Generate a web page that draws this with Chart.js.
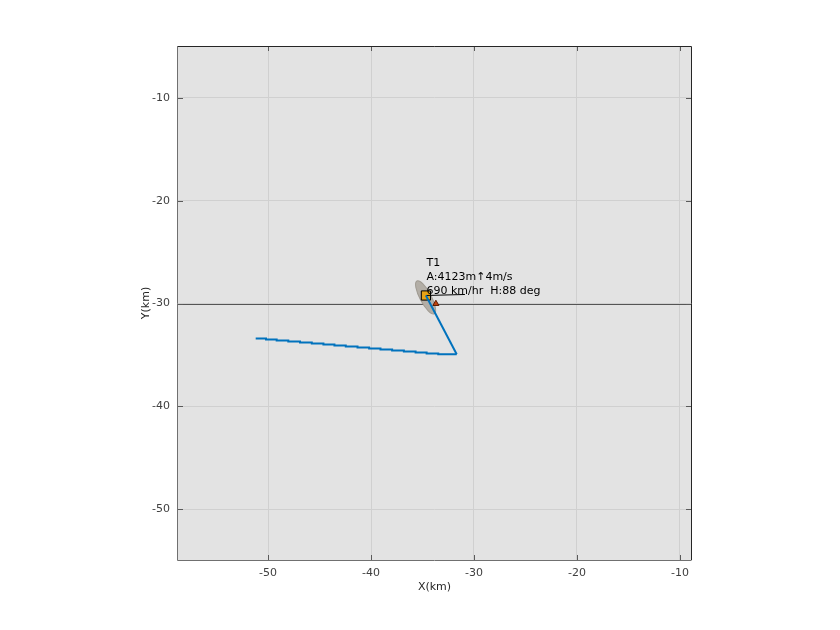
<!DOCTYPE html>
<html>
<head>
<meta charset="utf-8">
<script src="https://cdn.jsdelivr.net/npm/chart.js@4"></script>
<style>
  body { margin: 0; background: #ffffff; }
  #wrap { width: 840px; height: 630px; }
</style>
</head>
<body>
<div id="wrap"><canvas id="js--chart" width="840" height="630"></canvas></div>
<script>
// axis range and ticks (km)
const xRange = [-58.74, -8.93];
const yRange = [-54.96, -4.94];
const xTicks = [-50, -40, -30, -20, -10];
const yTicks = [-50, -40, -30, -20, -10];
const xTitle = 'X(km)';
const yTitle = 'Y(km)';
const refLineY = -30;

// track: westward leg (stair stepped) then the climb back to the target
const legX = [-51.10, -50.19, -49.16, -48.03, -46.89, -45.75, -44.62, -43.55, -42.45, -41.31,
    -40.18, -39.08, -37.95, -36.81, -35.67, -34.60, -33.47, -32.33, -31.68];
const legY = [-33.31, -33.41, -33.50, -33.60, -33.70, -33.79, -33.89, -33.99, -34.09, -34.18,
    -34.28, -34.38, -34.47, -34.57, -34.67, -34.76, -34.86, -34.93, -34.93];
const climbX = [-31.68, -34.67];
const climbY = [-34.93, -29.22];

// target T1
const targetX = [-34.67];
const targetY = [-29.22];
const headingX = [-34.67, -30.88];
const headingY = [-29.22, -29.12];
const triX = [-33.70];
const triY = [-30.02];
const ellipse = { x: -34.7, y: -29.4, a: 1.8, b: 0.55, angle: 62 };
const labelLines = ["T1", "A:4123m\u21914m/s", "690 km/hr  H:88 deg"];
const labelX = -34.62;
const labelY = -26.11;

function pts(xs, ys) {
    return xs.map((x, i) => ({ x: x, y: ys[i] }));
}

const font = "'DejaVu Sans', sans-serif";

const plotBack = {
    id: 'plotBack',
    beforeDraw(chart) {
        const a = chart.chartArea;
        const ctx = chart.ctx;
        ctx.save();
        ctx.fillStyle = '#e3e3e3';
        ctx.fillRect(a.left, a.top, a.right - a.left, a.bottom - a.top);
        ctx.restore();
    },
    beforeDatasetsDraw(chart) {
        const a = chart.chartArea;
        const ctx = chart.ctx;
        const xs = chart.scales.x, ys = chart.scales.y;
        ctx.save();
        // reference line
        const py = Math.round(ys.getPixelForValue(refLineY)) + 0.5;
        ctx.strokeStyle = '#555555';
        ctx.lineWidth = 1;
        ctx.beginPath();
        ctx.moveTo(a.left, py);
        ctx.lineTo(a.right, py);
        ctx.stroke();
        // uncertainty ellipse
        const cx = xs.getPixelForValue(ellipse.x);
        const cy = ys.getPixelForValue(ellipse.y);
        const rx = Math.abs(xs.getPixelForValue(ellipse.x + ellipse.a) - cx);
        const ry = Math.abs(ys.getPixelForValue(ellipse.y + ellipse.b) - cy);
        ctx.translate(cx, cy);
        ctx.rotate(ellipse.angle * Math.PI / 180);
        ctx.beginPath();
        ctx.ellipse(0, 0, rx, ry, 0, 0, Math.PI * 2);
        ctx.fillStyle = '#b3aea6';
        ctx.fill();
        ctx.strokeStyle = '#a09b92';
        ctx.stroke();
        ctx.restore();
    },
    afterDraw(chart) {
        const a = chart.chartArea;
        const ctx = chart.ctx;
        const xs = chart.scales.x, ys = chart.scales.y;
        ctx.save();
        // inner tick marks
        ctx.strokeStyle = '#5a5a5a';
        ctx.lineWidth = 1;
        ctx.beginPath();
        xTicks.forEach(t => {
            const p = Math.round(xs.getPixelForValue(t)) + 0.5;
            ctx.moveTo(p, a.bottom); ctx.lineTo(p, a.bottom - 5);
            ctx.moveTo(p, a.top); ctx.lineTo(p, a.top + 5);
        });
        yTicks.forEach(t => {
            const p = Math.round(ys.getPixelForValue(t)) + 0.5;
            ctx.moveTo(a.left, p); ctx.lineTo(a.left + 5, p);
            ctx.moveTo(a.right, p); ctx.lineTo(a.right - 5, p);
        });
        ctx.stroke();
        // box
        ctx.strokeStyle = '#262626';
        ctx.beginPath();
        ctx.moveTo(a.left, a.top + 0.5); ctx.lineTo(a.right + 0.5, a.top + 0.5);
        ctx.lineTo(a.right + 0.5, a.bottom);
        ctx.stroke();
        ctx.strokeStyle = '#707070';
        ctx.beginPath();
        ctx.moveTo(a.left - 0.5, a.top); ctx.lineTo(a.left - 0.5, a.bottom + 0.5);
        ctx.lineTo(a.right + 0.5, a.bottom + 0.5);
        ctx.stroke();
        // axis titles
        ctx.fillStyle = '#262626';
        ctx.font = '11px ' + font;
        ctx.textAlign = 'center';
        ctx.textBaseline = 'middle';
        ctx.fillText(xTitle, (a.left + a.right) / 2, a.bottom + 27);
        ctx.save();
        ctx.translate(a.left - 32, (a.top + a.bottom) / 2);
        ctx.rotate(-Math.PI / 2);
        ctx.fillText(yTitle, 0, 0);
        ctx.restore();
        // target label
        ctx.fillStyle = '#000000';
        ctx.textAlign = 'left';
        const lx = xs.getPixelForValue(labelX);
        const ly = ys.getPixelForValue(labelY);
        labelLines.forEach((s, i) => ctx.fillText(s, lx, ly + i * 14));
        ctx.restore();
    }
};

const config = {
    type: 'scatter',
    data: {
        datasets: [
            {
                label: 'track',
                data: pts(legX, legY),
                showLine: true,
                stepped: 'after',
                borderColor: '#0072bd',
                borderWidth: 2,
                pointRadius: 0,
            },
            {
                label: 'climb',
                data: pts(climbX, climbY),
                showLine: true,
                borderColor: '#0072bd',
                borderWidth: 2,
                pointRadius: 0,
            },
            {
                label: 'heading',
                data: pts(headingX, headingY),
                showLine: true,
                borderColor: '#000000',
                borderWidth: 1,
                pointRadius: 0,
            },
            {
                label: 'tri',
                data: pts(triX, triY),
                pointStyle: 'triangle',
                pointRadius: 3.5,
                backgroundColor: '#c0420e',
                borderColor: '#5a1a00',
                borderWidth: 1,
            },
            {
                label: 'T1',
                data: pts(targetX, targetY),
                pointStyle: 'rect',
                pointRadius: 6.5,
                backgroundColor: '#e8a316',
                borderColor: '#000000',
                borderWidth: 1,
            },
        ]
    },
    options: {
        responsive: false,
        animation: false,
        layout: { padding: { top: 46, right: 149, left: 0, bottom: 0 } },
        plugins: {
            legend: { display: false },
            tooltip: { enabled: false },
        },
        scales: {
            x: {
                type: 'linear',
                min: xRange[0],
                max: xRange[1],
                afterBuildTicks: (s) => { s.ticks = xTicks.map(v => ({ value: v })); },
                afterFit: (s) => { s.height = 70; },
                grid: { color: '#d0d0d0', drawTicks: false },
                border: { display: false },
                ticks: { color: '#404040', font: { family: font, size: 11 }, padding: 7 },
            },
            y: {
                type: 'linear',
                min: yRange[0],
                max: yRange[1],
                afterBuildTicks: (s) => { s.ticks = yTicks.map(v => ({ value: v })); },
                afterFit: (s) => { s.width = 178; },
                grid: { color: '#d0d0d0', drawTicks: false },
                border: { display: false },
                ticks: { color: '#404040', font: { family: font, size: 11 }, padding: 8 },
            }
        }
    },
    plugins: [plotBack]
};

const chart1 = new Chart(document.getElementById("js--chart"), config);
</script>
</body>
</html>
